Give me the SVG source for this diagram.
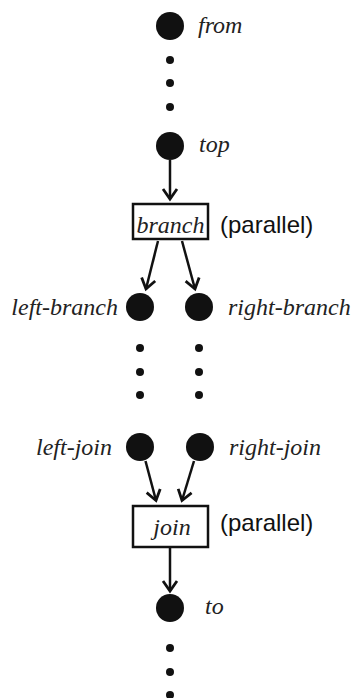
<svg xmlns="http://www.w3.org/2000/svg" width="354" height="698" viewBox="0 0 354 698">
  <style>
    .dot { fill: #111; }
    .pt { fill: #111; }
    .lbl { font-family: "Liberation Serif", "Times New Roman", serif; font-style: italic; font-size: 24px; fill: #222; }
    .note { font-family: "Liberation Sans", Arial, sans-serif; font-size: 24px; fill: #111; }
    .box { fill: #fff; stroke: #111; stroke-width: 2.5; }
    .edge { stroke: #111; stroke-width: 2.5; fill: none; marker-end: url(#arrow); }
  </style>
  <defs>
    <marker id="arrow" markerUnits="userSpaceOnUse" orient="auto" overflow="visible" markerWidth="14" markerHeight="14" refX="0" refY="0">
      <path d="M-10,-7 L0,0 L-10,7" fill="none" stroke="#111" stroke-width="2.8" stroke-linejoin="miter"/>
    </marker>
  </defs>

  <rect width="354" height="698" fill="#fff"/>

  <!-- connectors -->
  <g id="connectors">
    <line class="edge" x1="170" y1="160" x2="170" y2="199"/>
    <line class="edge" x1="158" y1="241" x2="146" y2="289"/>
    <line class="edge" x1="182" y1="241" x2="195" y2="289"/>
    <line class="edge" x1="145.5" y1="461" x2="156" y2="500.5"/>
    <line class="edge" x1="194" y1="461" x2="182" y2="500.5"/>
    <line class="edge" x1="170" y1="548" x2="170" y2="591"/>
  </g>

  <!-- ellipsis dots -->
  <g id="gap-top">
    <circle class="pt" cx="170" cy="60" r="4"/>
    <circle class="pt" cx="170" cy="83" r="4"/>
    <circle class="pt" cx="170" cy="107" r="4"/>
  </g>
  <g id="gap-left">
    <circle class="pt" cx="140" cy="348" r="4"/>
    <circle class="pt" cx="140" cy="372" r="4"/>
    <circle class="pt" cx="140" cy="395" r="4"/>
  </g>
  <g id="gap-right">
    <circle class="pt" cx="199" cy="348" r="4"/>
    <circle class="pt" cx="199" cy="372" r="4"/>
    <circle class="pt" cx="199" cy="395" r="4"/>
  </g>
  <g id="gap-bottom">
    <circle class="pt" cx="170" cy="648" r="4"/>
    <circle class="pt" cx="170" cy="672" r="4"/>
    <circle class="pt" cx="170" cy="695" r="4"/>
  </g>

  <!-- nodes -->
  <g id="from">
    <circle class="dot" cx="170" cy="26" r="14"/>
    <text class="lbl" x="198" y="33">from</text>
  </g>
  <g id="top">
    <circle class="dot" cx="170" cy="146" r="14"/>
    <text class="lbl" x="199" y="152">top</text>
  </g>
  <g id="branch">
    <rect class="box" x="133" y="204" width="75" height="35"/>
    <text class="lbl" x="170.5" y="233" text-anchor="middle">branch</text>
    <text class="note" x="220" y="233">(parallel)</text>
  </g>
  <g id="left-branch">
    <circle class="dot" cx="140" cy="307" r="14"/>
    <text class="lbl" x="118" y="315" text-anchor="end">left-branch</text>
  </g>
  <g id="right-branch">
    <circle class="dot" cx="199" cy="307" r="14"/>
    <text class="lbl" x="228" y="315">right-branch</text>
  </g>
  <g id="left-join">
    <circle class="dot" cx="140" cy="447" r="14"/>
    <text class="lbl" x="112" y="455" text-anchor="end">left-join</text>
  </g>
  <g id="right-join">
    <circle class="dot" cx="200" cy="447" r="14"/>
    <text class="lbl" x="229" y="455">right-join</text>
  </g>
  <g id="join">
    <rect class="box" x="133" y="506" width="75" height="41"/>
    <text class="lbl" x="172" y="535" text-anchor="middle">join</text>
    <text class="note" x="220" y="531">(parallel)</text>
  </g>
  <g id="to">
    <circle class="dot" cx="170" cy="608" r="14"/>
    <text class="lbl" x="205" y="614">to</text>
  </g>
</svg>
